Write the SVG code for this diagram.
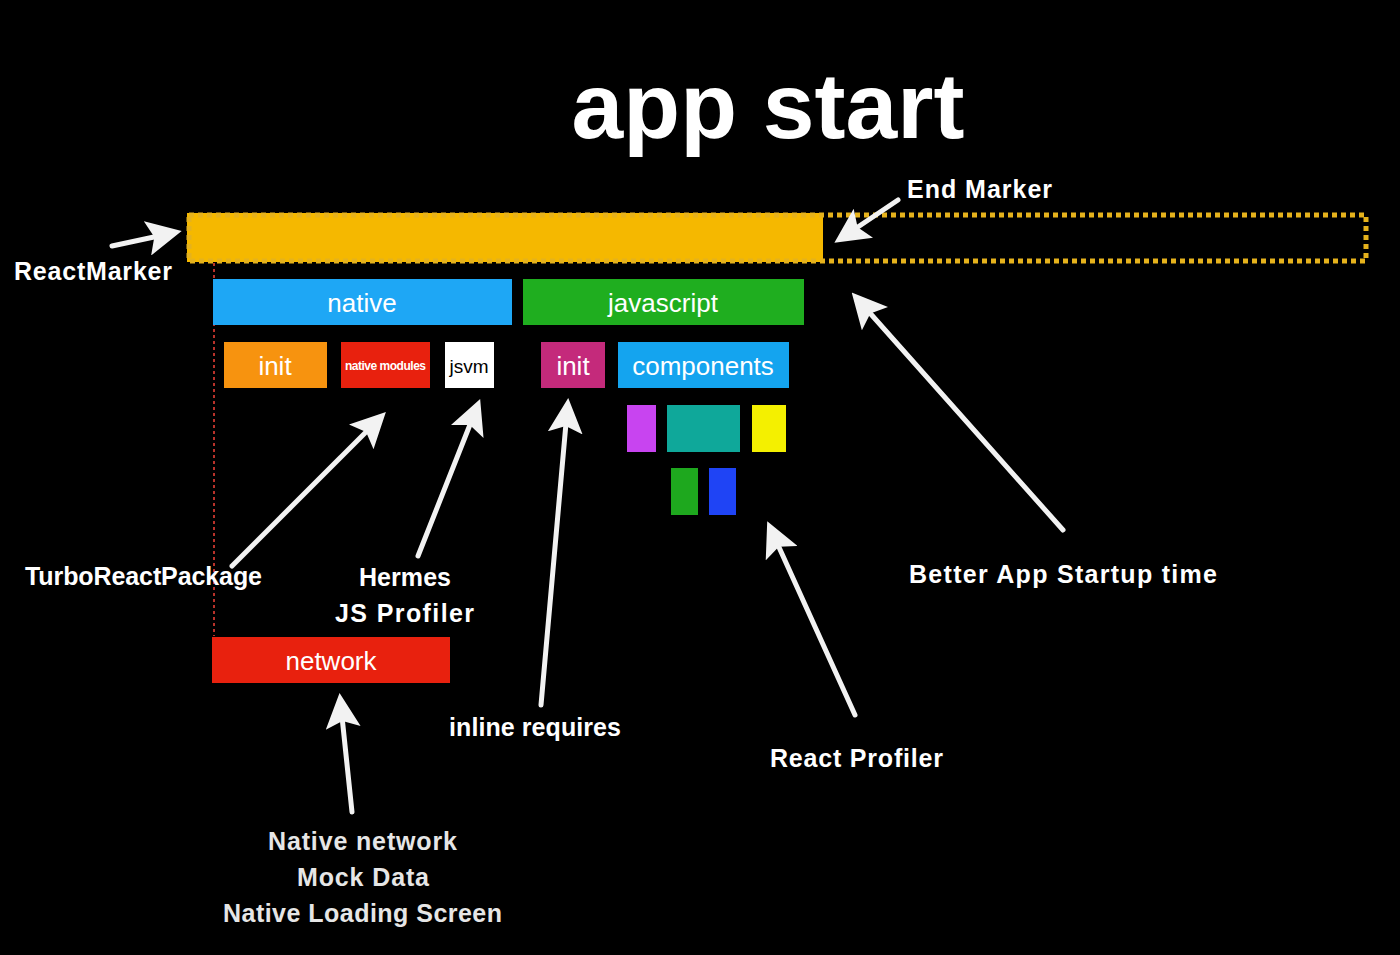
<svg xmlns="http://www.w3.org/2000/svg" width="1400" height="955" viewBox="0 0 1400 955">
<defs>
<style>
.lbl{font-family:"Liberation Sans",Arial,sans-serif;font-weight:bold;font-size:25px;fill:#ffffff}
.box{font-family:"Liberation Sans",Arial,sans-serif;font-size:26px;fill:#ffffff;text-anchor:middle}
.sm{font-family:"Liberation Sans",Arial,sans-serif;font-weight:bold;font-size:12px;fill:#ffffff}
.blk{font-family:"Liberation Sans",Arial,sans-serif;font-size:19px;fill:#000000;text-anchor:middle}
.arr{stroke:#f2f2f2;stroke-width:5;fill:none;stroke-linecap:round;marker-end:url(#ah)}
</style>
<marker id="ah" viewBox="0 0 10 10" refX="6" refY="5" markerWidth="7" markerHeight="7" orient="auto" markerUnits="strokeWidth">
<path d="M0,0 L10,5 L0,10 L2,5 Z" fill="#f2f2f2"/>
</marker>
</defs>
<rect x="0" y="0" width="1400" height="955" fill="#000000"/>
<text x="768" y="138" font-family="Liberation Sans,Arial,sans-serif" font-weight="bold" font-size="93" fill="#ffffff" text-anchor="middle">app start</text>

<g id="timeline">
<rect x="187" y="213" width="636" height="49" fill="#f5b800"/>
<rect x="189" y="215" width="1177" height="46" fill="none" stroke="#e6b21c" stroke-width="5" stroke-dasharray="5 4"/>
<line x1="214" y1="263" x2="214" y2="636" stroke="#b8322a" stroke-width="2" stroke-dasharray="3 3"/>
</g>

<g id="native"><rect x="213" y="279" width="299" height="46" fill="#1ea7f5"/><text class="box" x="362" y="312">native</text></g>
<g id="javascript"><rect x="523" y="279" width="281" height="46" fill="#1fae1f"/><text class="box" x="663" y="312">javascript</text></g>
<g id="init-native"><rect x="224" y="342" width="103" height="46" fill="#f7930f"/><text class="box" x="275" y="375">init</text></g>
<g id="native-modules"><rect x="341" y="342" width="89" height="46" fill="#e8210e"/><text class="sm" x="345" y="370" textLength="81">native modules</text></g>
<g id="jsvm"><rect x="445" y="342" width="49" height="46" fill="#ffffff"/><text class="blk" x="469" y="373">jsvm</text></g>
<g id="init-js"><rect x="541" y="342" width="64" height="46" fill="#c42a7b"/><text class="box" x="573" y="375">init</text></g>
<g id="components"><rect x="618" y="342" width="171" height="46" fill="#14a4ef"/><text class="box" x="703" y="375">components</text></g>
<g id="comp-purple"><rect x="627" y="405" width="29" height="47" fill="#c844f0"/></g>
<g id="comp-teal"><rect x="667" y="405" width="73" height="47" fill="#0fa89a"/></g>
<g id="comp-yellow"><rect x="752" y="405" width="34" height="47" fill="#f4f000"/></g>
<g id="comp-green"><rect x="671" y="468" width="27" height="47" fill="#1ea81e"/></g>
<g id="comp-blue"><rect x="709" y="468" width="27" height="47" fill="#1f44f5"/></g>
<g id="network"><rect x="212" y="637" width="238" height="46" fill="#e8210e"/><text class="box" x="331" y="670">network</text></g>

<g id="connectors">
<line class="arr" x1="112" y1="246" x2="168" y2="234"/>
<line class="arr" x1="898" y1="200" x2="846" y2="235"/>
<line class="arr" x1="232" y1="566" x2="376" y2="422"/>
<line class="arr" x1="418" y1="556" x2="475" y2="412"/>
<line class="arr" x1="541" y1="705" x2="567" y2="412"/>
<line class="arr" x1="352" y1="812" x2="341" y2="707"/>
<line class="arr" x1="855" y1="715" x2="773" y2="534"/>
<line class="arr" x1="1063" y1="530" x2="861" y2="303"/>
</g>

<g id="labels">
<text class="lbl" x="14" y="280" textLength="158">ReactMarker</text>
<text class="lbl" x="907" y="198" textLength="145">End Marker</text>
<text class="lbl" x="25" y="585" textLength="237">TurboReactPackage</text>
<text class="lbl" x="359" y="586" textLength="92">Hermes</text>
<text class="lbl" x="335" y="622" textLength="139">JS Profiler</text>
<text class="lbl" x="449" y="736" textLength="172">inline requires</text>
<text class="lbl" x="770" y="767" textLength="173">React Profiler</text>
<text class="lbl" x="909" y="583" textLength="308">Better App Startup time</text>
<text class="lbl" x="268" y="850" textLength="189" style="fill:#e6e6e6">Native network</text>
<text class="lbl" x="297" y="886" textLength="132" style="fill:#e6e6e6">Mock Data</text>
<text class="lbl" x="223" y="922" textLength="279" style="fill:#e6e6e6">Native Loading Screen</text>
</g>
</svg>
